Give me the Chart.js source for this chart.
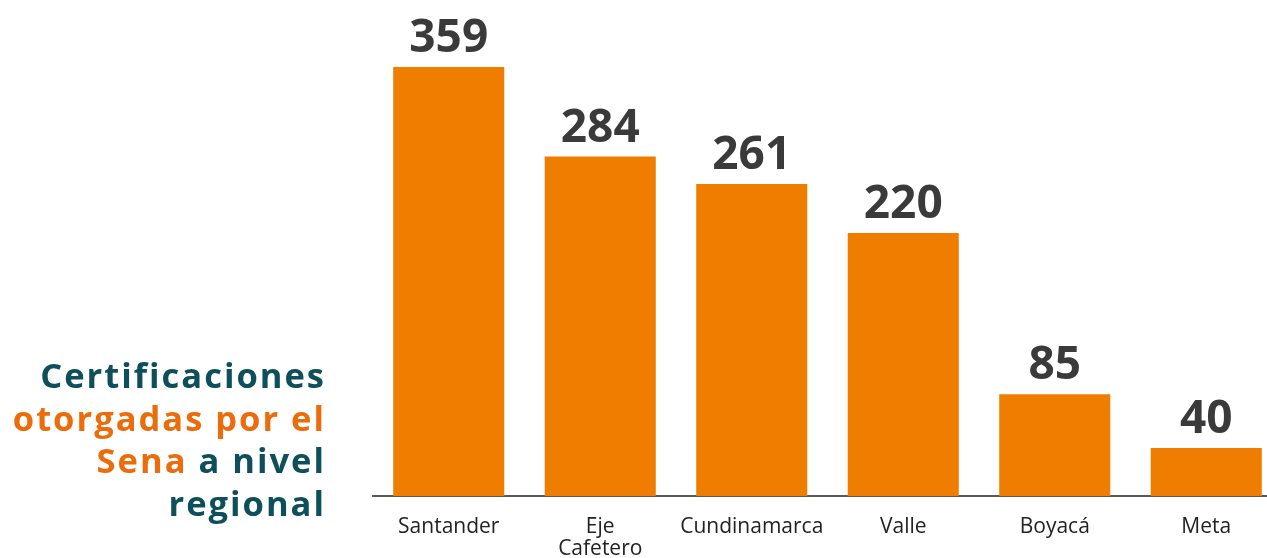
<!DOCTYPE html>
<html>
<head>
<meta charset="utf-8">
<script src="https://cdn.jsdelivr.net/npm/chart.js@4/dist/chart.umd.min.js"></script>
<style>
  html, body { margin: 0; padding: 0; background: #fff; overflow: hidden; }
  #wrap { position: relative; width: 1267px; height: 558px; overflow: hidden; }
  #chartBox { position: absolute; left: 0; top: 0; width: 1282px; height: 580px; }
  #title {
    position: absolute; right: calc(1267px - 326px); top: 354px;
    font-family: "Open Sans", sans-serif; font-weight: 700; font-size: 34.5px;
    letter-spacing: 2px;
    line-height: 42.5px; text-align: right; color: #0e4f5c; white-space: nowrap;
  }
  #title .o { color: #ec6c0c; }
</style>
</head>
<body>
<div id="wrap">
  <div id="chartBox"><canvas id="chart"></canvas></div>
  <div id="title">Certificaciones<br><span class="o">otorgadas por el</span><br><span class="o">Sena</span> a nivel<br>regional</div>
</div>
<script>
const categories = ['Santander', ['Eje', 'Cafetero'], 'Cundinamarca', 'Valle', 'Boyacá', 'Meta']
const certificaciones = [359, 284, 261, 220, 85, 40]

// Value labels over each bar
const valueLabels = {
  id: 'valueLabels',
  afterDatasetsDraw(chart) {
    const { ctx } = chart
    const meta = chart.getDatasetMeta(0)
    ctx.save()
    ctx.font = 'bold 46px "Open Sans", sans-serif'
    ctx.fillStyle = '#3a3a3a'
    ctx.textAlign = 'center'
    ctx.textBaseline = 'alphabetic'
    meta.data.forEach((bar, i) => {
      ctx.fillText(certificaciones[i], bar.x, bar.y - 15)
    })
    ctx.restore()
  }
}

new Chart(document.getElementById('chart'), {
  type: 'bar',
  data: {
    labels: categories,
    datasets: [{
      data: certificaciones,
      backgroundColor: '#ef7d00',
      borderWidth: 0,
      categoryPercentage: 1,
      barPercentage: 0.733
    }]
  },
  options: {
    responsive: true,
    maintainAspectRatio: false,
    animation: false,
    layout: { padding: { left: 373, right: 0, top: 0, bottom: 0 } },
    plugins: { legend: { display: false }, tooltip: { enabled: false } },
    scales: {
      x: {
        grid: { display: false, drawTicks: false },
        border: { display: true, color: '#5a5a5a', width: 2 },
        ticks: {
          color: '#222',
          padding: 20,
          maxRotation: 0,
          autoSkip: false,
          font: { family: '"Open Sans", sans-serif', size: 21, lineHeight: 1.05 }
        }
      },
      y: {
        display: false,
        min: 0,
        max: 415
      }
    }
  },
  plugins: [valueLabels]
})
</script>
</body>
</html>
